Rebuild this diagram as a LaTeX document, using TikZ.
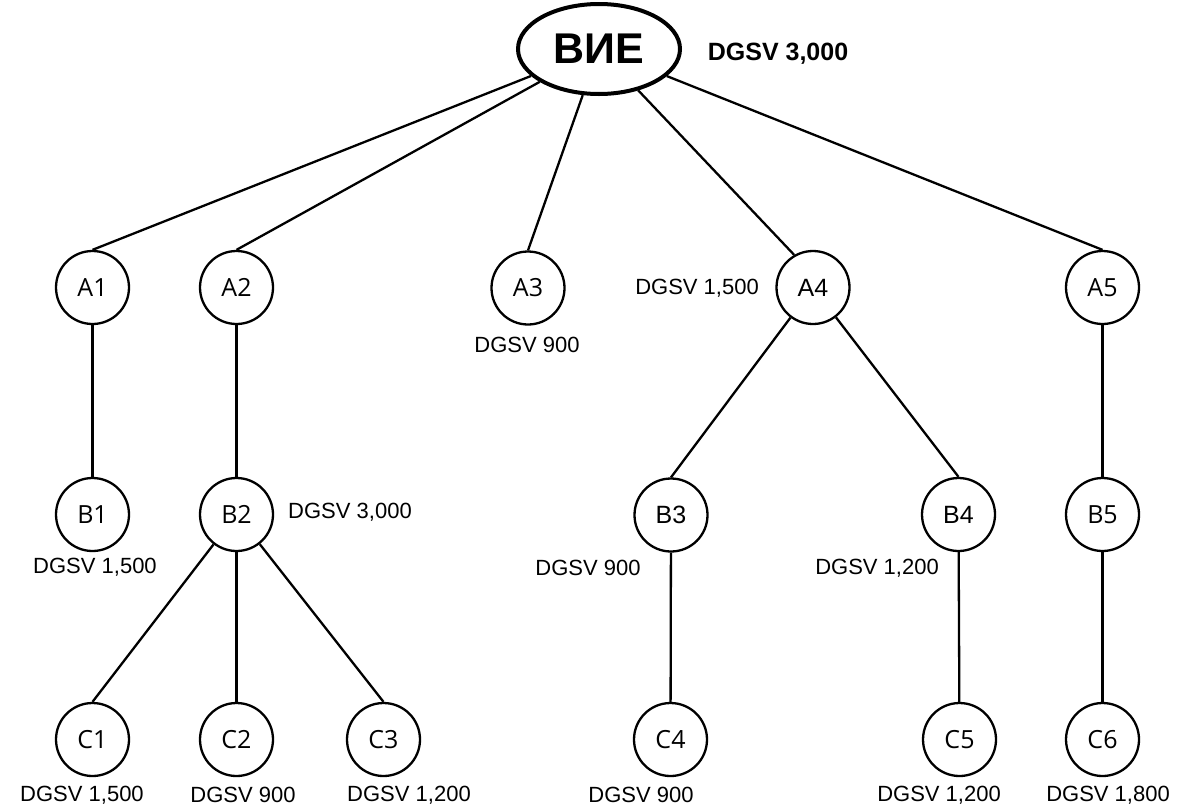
\documentclass[tikz,border=0pt]{standalone}
\usepackage{fontspec}
\setmainfont{Liberation Sans}
\newfontfamily\segoe{Open Sans}
\usetikzlibrary{shapes.geometric}
\tikzset{
  nd/.style={circle, draw, line width=2.3pt, minimum size=73pt, inner sep=0pt, font=\segoe\fontsize{25}{28}\selectfont},
  ndar/.style={nd, font=\fontsize{25}{28}\selectfont},
  root/.style={ellipse, draw, line width=4pt, minimum width=162pt, minimum height=90pt, inner sep=0pt, font=\bfseries\fontsize{43}{48}\selectfont},
  lbl/.style={inner sep=0pt, font=\fontsize{22}{26}\selectfont},
  blbl/.style={inner sep=0pt, font=\bfseries\fontsize{25}{28}\selectfont},
  edge/.style={line width=2.3pt}
}
\begin{document}
\begin{tikzpicture}[x=1pt,y=-1pt]
\useasboundingbox (0,0) rectangle (1182,809);
\node[root] (E) at (599,49) {ВИЕ};
\node[nd] (A1) at (92.5,287.5) {A1};
\node[nd] (A2) at (236.5,287.5) {A2};
\node[nd] (A3) at (528,288) {A3};
\node[ndar] (A4) at (813,287.5) {A4};
\node[nd] (A5) at (1102.5,287.5) {A5};
\node[nd] (B1) at (92.5,514.5) {B1};
\node[nd] (B2) at (236.5,514.5) {B2};
\node[ndar] (B3) at (671,515) {B3};
\node[ndar] (B4) at (958.5,514.5) {B4};
\node[nd] (B5) at (1102.5,514.5) {B5};
\node[nd] (C1) at (92.5,739.5) {C1};
\node[nd] (C2) at (236.5,739.5) {C2};
\node[nd] (C3) at (383.5,739.5) {C3};
\node[nd] (C4) at (670.5,739.5) {C4};
\node[nd] (C5) at (959.5,739.5) {C5};
\node[nd] (C6) at (1102.5,739.5) {C6};
% labels
\node[blbl] (lE) at (778,54) {DGSV 3,000};
\node[lbl] (lA3) at (527,345) {DGSV 900};
\node[lbl] (lA4) at (697,288) {DGSV 1,500};
\node[lbl] (lB1) at (95,567) {DGSV 1,500};
\node[lbl] (lB2) at (350,512) {DGSV 3,000};
\node[lbl] (lB3) at (588,568) {DGSV 900};
\node[lbl] (lB4) at (877,568) {DGSV 1,200};
\node[lbl] (lC1) at (82,795) {DGSV 1,500};
\node[lbl] (lC2) at (243,795) {DGSV 900};
\node[lbl] (lC3) at (409,795) {DGSV 1,200};
\node[lbl] (lC4) at (641,795) {DGSV 900};
\node[lbl] (lC5) at (939,795) {DGSV 1,200};
\node[lbl] (lC6) at (1108,795) {DGSV 1,800};
% edges
\draw[edge] (E) -- (A1.north);
\draw[edge] (E) -- (A2.north);
\draw[edge] (E) -- (A3.north);
\draw[edge] (E) -- (A4.120);
\draw[edge] (E) -- (A5.north);
\draw[edge] (A1) -- (B1);
\draw[edge] (A2) -- (B2);
\draw[edge] (A4) -- (B3.north);
\draw[edge] (A4) -- (B4.north);
\draw[edge] (A5) -- (B5);
\draw[edge] (B2) -- (C1.north);
\draw[edge] (B2) -- (C2);
\draw[edge] (B2) -- (C3.north);
\draw[edge] (B3) -- (C4);
\draw[edge] (B4) -- (C5);
\draw[edge] (B5) -- (C6);
\end{tikzpicture}
\end{document}
